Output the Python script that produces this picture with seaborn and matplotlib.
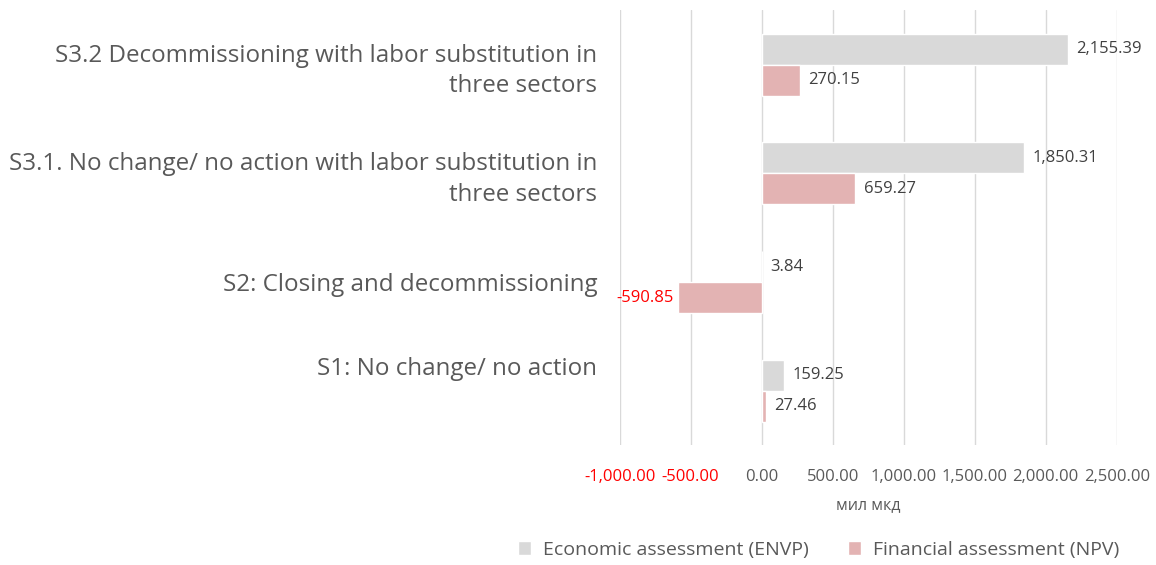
import pandas as pd
import numpy as np
import matplotlib.pyplot as plt
import matplotlib.transforms as mtransforms
import seaborn as sns

# Chart data
scenarios = [
    "S3.2 Decommissioning with labor substitution in\nthree sectors",
    "S3.1. No change/ no action with labor substitution in\nthree sectors",
    "S2: Closing and decommissioning",
    "S1: No change/ no action",
]
economic = [2155.39, 1850.31, 3.84, 159.25]
financial = [270.15, 659.27, -590.85, 27.46]
series_names = ["Economic assessment (ENVP)", "Financial assessment (NPV)"]
x_ticks = [-1000, -500, 0, 500, 1000, 1500, 2000, 2500]

df = pd.DataFrame({
    "scenario": scenarios * 2,
    "value": economic + financial,
    "series": [series_names[0]] * 4 + [series_names[1]] * 4,
})

sns.set_style("white")
plt.rcParams["font.family"] = ["Open Sans", "DejaVu Sans"]

fig = plt.figure(figsize=(11.56, 5.65), dpi=100)
ax = fig.add_axes([0.536, 0.212, 0.43, 0.77])

palette = {series_names[0]: "#D9D9D9", series_names[1]: "#E3B3B3"}
sns.barplot(data=df, y="scenario", x="value", hue="series", order=scenarios,
            hue_order=series_names, palette=palette, orient="h", width=0.57,
            saturation=1, ax=ax, legend=True)

# value labels
for cont in ax.containers:
    for bar in cont:
        w = bar.get_width()
        yc = bar.get_y() + bar.get_height() / 2
        if w < 0:
            ax.text(w - 25, yc, f"{w:,.2f}", ha="right", va="center",
                    fontsize=12, color="#FF0000")
        else:
            ax.text(w + 60, yc, f"{w:,.2f}", ha="left", va="center",
                    fontsize=12, color="#404040")

ax.set_xlim(-1000, 2500)
ax.set_xticks(x_ticks)
ax.set_xticklabels([f"{t:,.2f}" for t in x_ticks], fontsize=12)
for lbl, t in zip(ax.get_xticklabels(), x_ticks):
    lbl.set_color("#FF0000" if t < 0 else "#595959")
ax.grid(axis="x", color="#D9D9D9", linewidth=1)
ax.set_axisbelow(True)
for s in ax.spines.values():
    s.set_visible(False)
ax.tick_params(axis="both", length=0)
ax.tick_params(axis="y", pad=16)
ax.tick_params(axis="x", pad=17)
for i, lbl in enumerate(ax.get_yticklabels()):
    lbl.set_fontsize(17.4)
    lbl.set_color("#595959")
    lbl.set_multialignment("right")
    lbl.set_linespacing(1.35)
    if i == 3:
        lbl.set_transform(lbl.get_transform() +
                          mtransforms.ScaledTranslation(0, 0.25, fig.dpi_scale_trans))
ax.set_ylabel("")
ax.set_xlabel("мил мкд", fontsize=11.5, color="#595959", labelpad=9)

ax.legend(loc="center", bbox_to_anchor=(0.40, -0.241), ncol=2, frameon=False,
          fontsize=14, labelcolor="#595959", handlelength=0.7,
          handleheight=0.7, handletextpad=0.6, columnspacing=2.0)

fig.savefig("out.png", dpi=100)
